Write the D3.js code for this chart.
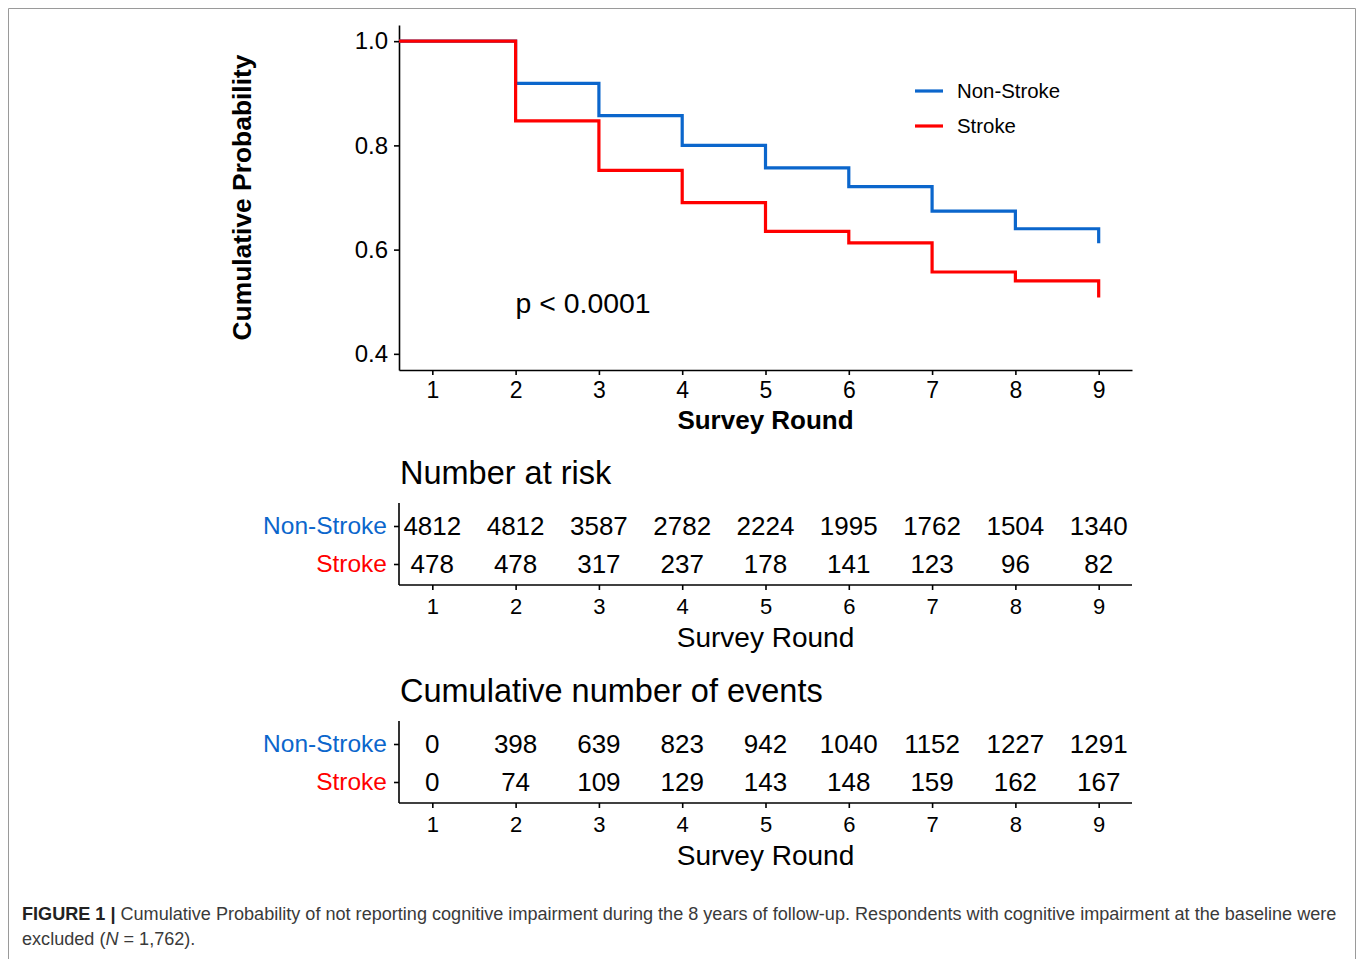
<!DOCTYPE html>
<html>
<head>
<meta charset="utf-8">
<script src="https://cdn.jsdelivr.net/npm/d3@7"></script>
<style>
    body { margin: 0; background: white; }
    svg { display: block; font-family: "Liberation Sans", Arial, sans-serif; }
</style>
</head>
<body>
<div id="chart-container"></div>
<script>
const rounds = [1, 2, 3, 4, 5, 6, 7, 8, 9];
const groups = ["Non-Stroke", "Stroke"];
const nonStrokeSurvival = [1.0, 0.919, 0.857, 0.800, 0.757, 0.721, 0.674, 0.640, 0.612];
const strokeSurvival = [1.0, 0.847, 0.752, 0.690, 0.635, 0.613, 0.557, 0.540, 0.508];
const nonStrokeAtRisk = [4812, 4812, 3587, 2782, 2224, 1995, 1762, 1504, 1340];
const strokeAtRisk = [478, 478, 317, 237, 178, 141, 123, 96, 82];
const nonStrokeEvents = [0, 398, 639, 823, 942, 1040, 1152, 1227, 1291];
const strokeEvents = [0, 74, 109, 129, 143, 148, 159, 162, 167];
const yTicks = [0.4, 0.6, 0.8, 1.0];

const colorMapping = {
    'Non-Stroke': '#0b66cc',
    'Stroke': '#ff0000'
};
const chartWidth = 1357;
const chartHeight = 959;
const panel = {left: 399, right: 1132, top: 25, bottom: 370};

function createScales() {
    const xScale = d3.scaleLinear()
        .domain([0.6, 9.4])
        .range([panel.left, panel.right]);

    const yScale = d3.scaleLinear()
        .domain([0.369, 1.031])
        .range([panel.bottom, panel.top]);

    return {xScale, yScale};
}

function createSvg() {
    const svg = d3.select("#chart-container").append("svg")
        .attr("width", chartWidth)
        .attr("height", chartHeight);

    // frame of the figure
    svg.append("path")
        .attr("d", `M8.5,${chartHeight} V8.5 H1355.5 V${chartHeight}`)
        .attr("fill", "none")
        .attr("stroke", "#9a9a9a")
        .attr("stroke-width", 1);
    return svg;
}

function styleAxis(g) {
    g.select(".domain").attr("stroke", "black").attr("stroke-width", 1.6);
    g.selectAll(".tick line").attr("stroke", "black").attr("stroke-width", 1.6);
    g.selectAll(".tick text").attr("fill", "black");
}

/**
 * Draw the survival panel with its axes, curves, legend and p value
 */
function drawSurvival(svg, xScale, yScale) {
    const xAxis = d3.axisBottom(xScale).tickValues(rounds).tickSize(5).tickPadding(7).tickSizeOuter(0);
    const yAxis = d3.axisLeft(yScale).tickValues(yTicks).tickFormat(d3.format(".1f")).tickSize(5).tickPadding(6).tickSizeOuter(0);

    svg.append("g")
        .attr("transform", `translate(0, ${panel.bottom})`)
        .call(xAxis)
        .call(styleAxis)
        .call(g => g.selectAll(".tick text").style("font-size", "23px").attr("dy", "0.71em"));

    svg.append("g")
        .attr("transform", `translate(${panel.left}, 0)`)
        .call(yAxis)
        .call(styleAxis)
        .call(g => g.selectAll(".tick text").style("font-size", "24px"));

    svg.append("text")
        .attr("x", (xScale(1) + xScale(9)) / 2)
        .attr("y", 429)
        .attr("text-anchor", "middle")
        .style("font-size", "26px")
        .style("font-weight", "bold")
        .text("Survey Round");

    svg.append("text")
        .attr("transform", `translate(251, 197.5) rotate(-90)`)
        .attr("text-anchor", "middle")
        .style("font-size", "26.4px")
        .style("font-weight", "bold")
        .text("Cumulative Probability");

    const line = d3.line()
        .x(d => xScale(d.x))
        .y(d => yScale(d.y))
        .curve(d3.curveStepAfter);

    const series = [
        {name: "Non-Stroke", values: nonStrokeSurvival},
        {name: "Stroke", values: strokeSurvival}
    ];
    series.forEach(s => {
        const pts = s.values.map((v, i) => ({x: i === 0 ? xScale.domain()[0] : rounds[i], y: v}));
        svg.append("path")
            .datum(pts)
            .attr("d", line)
            .attr("fill", "none")
            .attr("stroke", colorMapping[s.name])
            .attr("stroke-width", 3.2);
    });

    svg.append("text")
        .attr("x", xScale(2))
        .attr("y", 313)
        .style("font-size", "28.4px")
        .text("p < 0.0001");

    const legend = svg.append("g").attr("transform", "translate(915, 91)");
    groups.forEach((name, i) => {
        legend.append("line")
            .attr("x1", 0).attr("x2", 28)
            .attr("y1", i * 35).attr("y2", i * 35)
            .attr("stroke", colorMapping[name])
            .attr("stroke-width", 3.2);
        legend.append("text")
            .attr("x", 42)
            .attr("y", i * 35)
            .attr("dy", "0.35em")
            .style("font-size", "20.4px")
            .text(name);
    });
}

/**
 * Draw a risk table below the plot
 */
function drawTable(svg, xScale, offset, title, rows) {
    const top = 503 + offset;
    const bottom = 585 + offset;
    const yScale = d3.scalePoint()
        .domain(groups)
        .range([top + 23, bottom - 21]);

    svg.append("text")
        .attr("x", panel.left + 1)
        .attr("y", 484 + offset)
        .style("font-size", "32.5px")
        .text(title);

    svg.append("g")
        .attr("transform", `translate(0, ${bottom})`)
        .call(d3.axisBottom(xScale).tickValues(rounds).tickSize(5).tickPadding(8).tickSizeOuter(0))
        .call(styleAxis)
        .call(g => g.select(".domain").attr("d", `M${panel.left},0H${panel.right}`))
        .call(g => g.selectAll(".tick text").style("font-size", "22px").attr("dy", "0.71em"));

    svg.append("g")
        .attr("transform", `translate(${panel.left}, 0)`)
        .call(d3.axisLeft(yScale).tickSize(5).tickPadding(7).tickSizeOuter(0))
        .call(styleAxis)
        .call(g => g.select(".domain").attr("d", `M0,${top}V${bottom}`))
        .call(g => g.selectAll(".tick text")
            .style("font-size", "24.5px")
            .attr("fill", d => colorMapping[d]));

    rows.forEach((values, r) => {
        svg.append("g").selectAll("text")
            .data(values)
            .enter()
            .append("text")
            .attr("x", (d, i) => xScale(rounds[i]))
            .attr("y", yScale(groups[r]))
            .attr("dy", "0.36em")
            .attr("text-anchor", "middle")
            .style("font-size", "26px")
            .text(d => d);
    });

    svg.append("text")
        .attr("x", (xScale(1) + xScale(9)) / 2)
        .attr("y", 647 + offset)
        .attr("text-anchor", "middle")
        .style("font-size", "28px")
        .text("Survey Round");
}

function drawCaption(svg) {
    const cap = svg.append("text")
        .attr("x", 22)
        .attr("y", 920)
        .attr("fill", "#3a3a3a")
        .style("font-size", "17px");
    cap.append("tspan").style("font-weight", "bold").attr("fill", "#222").text("FIGURE 1 | ");
    cap.append("tspan").text("Cumulative Probability of not reporting cognitive impairment during the 8 years of follow-up. Respondents with cognitive impairment at the baseline were");

    // fit the first line to the column width
    const len = cap.node().getComputedTextLength();
    const size = 17 * 1315 / len;
    cap.style("font-size", size + "px");

    const cap2 = svg.append("text")
        .attr("x", 22)
        .attr("y", 945)
        .attr("fill", "#3a3a3a")
        .style("font-size", size + "px");
    cap2.append("tspan").text("excluded (");
    cap2.append("tspan").style("font-style", "italic").text("N");
    cap2.append("tspan").text(" = 1,762).");
}

const {xScale, yScale} = createScales();
const svg = createSvg();
drawSurvival(svg, xScale, yScale);
drawTable(svg, xScale, 0, "Number at risk", [nonStrokeAtRisk, strokeAtRisk]);
drawTable(svg, xScale, 218, "Cumulative number of events", [nonStrokeEvents, strokeEvents]);
drawCaption(svg);
</script>
</body>
</html>
